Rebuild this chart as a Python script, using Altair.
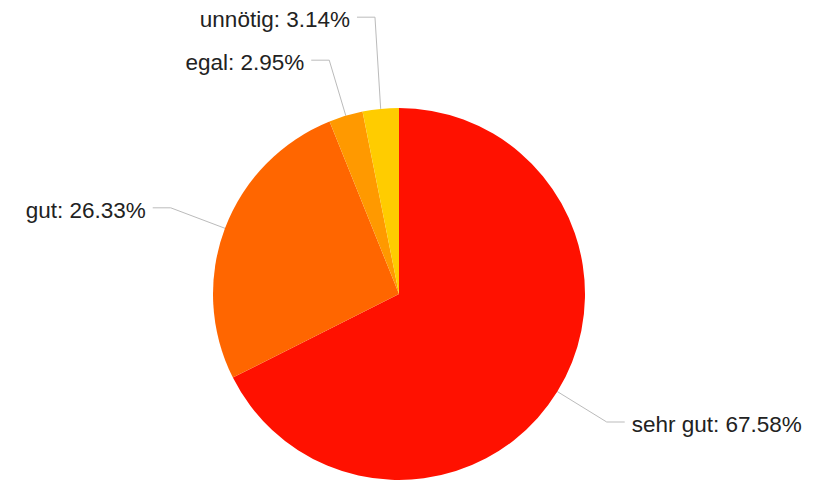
import altair as alt
import numpy as np
import pandas as pd

# ---- data ----
categories = ["sehr gut", "gut", "egal", "unnötig"]
shares = [67.58, 26.33, 2.95, 3.14]
colors = ["#ff1100", "#ff6600", "#ff9900", "#ffcc00"]

# ---- layout parameters ----
W, H = 808, 474
CX, CY, R = 391, 286, 186
EXT = 58       # radial length of leader line beyond the rim
HSEG = 18      # horizontal leader segment
GAP = 7        # gap between leader end and text
MIN_SEP = 43   # min vertical separation of labels on one side
FONT = "Liberation Sans"

n = len(categories)
total = float(sum(shares))
cum = np.concatenate([[0.0], np.cumsum(shares)])
mid = (cum[:-1] + cum[1:]) / 2.0 / total * 2 * np.pi
sx = CX + R * np.sin(mid)
sy = CY - R * np.cos(mid)
ex = CX + (R + EXT) * np.sin(mid)
ey = CY - (R + EXT) * np.cos(mid)
side = np.where(np.sin(mid) >= 0, "right", "left")

for s in ["left", "right"]:
    idx = [i for i in range(n) if side[i] == s]
    idx.sort(key=lambda i: -ey[i])
    for a, b in zip(idx, idx[1:]):
        if ey[a] - ey[b] < MIN_SEP:
            ey[b] = ey[a] - MIN_SEP

sign = np.where(side == "right", 1.0, -1.0)
endx = ex + sign * HSEG
tx = endx + sign * GAP

pie_df = pd.DataFrame({"category": categories, "share": shares, "idx": list(range(n))})

line_rows = []
for i in range(n):
    for k, (px, py) in enumerate([(sx[i], sy[i]), (ex[i], ey[i]), (endx[i], ey[i])]):
        line_rows.append({"category": categories[i], "k": k, "px": px, "py": py})
line_df = pd.DataFrame(line_rows)

text_df = pd.DataFrame({
    "label": [f"{c}: {v:.2f}%" for c, v in zip(categories, shares)],
    "tx": tx, "ty": ey + 10, "side": side,
})

xs = alt.Scale(domain=[0, W], nice=False, zero=False)
ys = alt.Scale(domain=[H, 0], nice=False, zero=False)

pie = alt.Chart(pie_df).mark_arc(outerRadius=R).encode(
    theta=alt.Theta("share:Q", stack=True),
    color=alt.Color("category:N", scale=alt.Scale(domain=categories, range=colors), legend=None),
    order=alt.Order("idx:Q"),
    x=alt.value(CX),
    y=alt.value(CY),
)

leaders = alt.Chart(line_df).mark_line(color="#bbbbbb", strokeWidth=1).encode(
    x=alt.X("px:Q", scale=xs, axis=None),
    y=alt.Y("py:Q", scale=ys, axis=None),
    detail="category:N",
    order="k:Q",
)

def labels(s, align):
    return alt.Chart(text_df).transform_filter(alt.datum.side == s).mark_text(
        align=align, baseline="alphabetic", font=FONT, fontSize=22.5, color="#222222"
    ).encode(
        x=alt.X("tx:Q", scale=xs, axis=None),
        y=alt.Y("ty:Q", scale=ys, axis=None),
        text="label:N",
    )

chart = alt.layer(leaders, pie, labels("left", "right"), labels("right", "left")).properties(
    width=W, height=H, autosize=alt.AutoSizeParams(type="none"), padding=0
).configure_view(stroke=None)

chart.save("out.html", embed_options={"renderer": "svg", "actions": False})
